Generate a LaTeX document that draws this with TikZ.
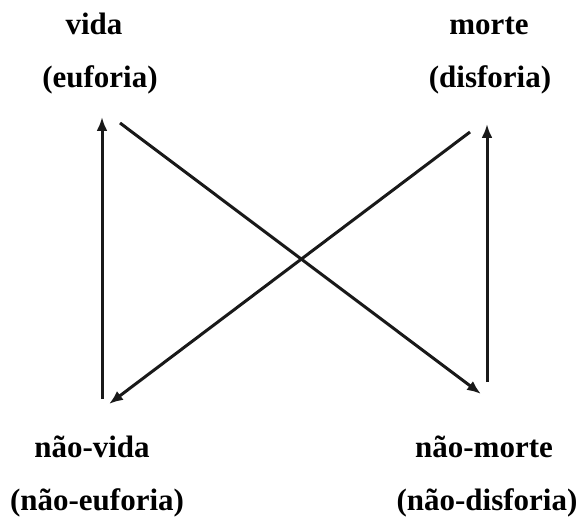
\documentclass[tikz,border=0pt]{standalone}
\usepackage{fontspec}
\setmainfont{Liberation Serif}
\usetikzlibrary{arrows.meta}

\begin{document}
\begin{tikzpicture}[
    x=1pt,y=-1pt,
    font=\bfseries\fontsize{31}{37}\selectfont,
    term/.style={anchor=base,inner sep=0pt},
    line/.style={draw=black!90,line width=3pt},
    arrow/.style={line,-{Latex[length=14pt,width=11pt]}}
]
\useasboundingbox (0,0) rectangle (583,518);
% labels of the square
\node[term] (vida) at (94,35) {vida};
\node[term] (euforia) at (100,88) {(euforia)};
\node[term] (morte) at (489,35) {morte};
\node[term] (disforia) at (490,88) {(disforia)};
\node[term] (naovida) at (92,457) {não-vida};
\node[term] (naoeuforia) at (97,510) {(não-euforia)};
\node[term] (naomorte) at (484,457) {não-morte};
\node[term] (naodisforia) at (487,510) {(não-disforia)};
% end points of the connectors
\coordinate (lefttop) at (102,117);
\coordinate (leftbot) at (102,399);
\coordinate (righttop) at (487,124);
\coordinate (rightbot) at (487,382);
\coordinate (crossa) at (120,123);
\coordinate (crossb) at (481,394);
\coordinate (crossc) at (470,132);
\coordinate (crossd) at (109,404);
\draw[arrow] (leftbot) -- (lefttop);
\draw[arrow] (rightbot) -- (righttop);
\draw[arrow] (crossa) -- (crossb);
\draw[arrow] (crossc) -- (crossd);
\end{tikzpicture}
\end{document}
